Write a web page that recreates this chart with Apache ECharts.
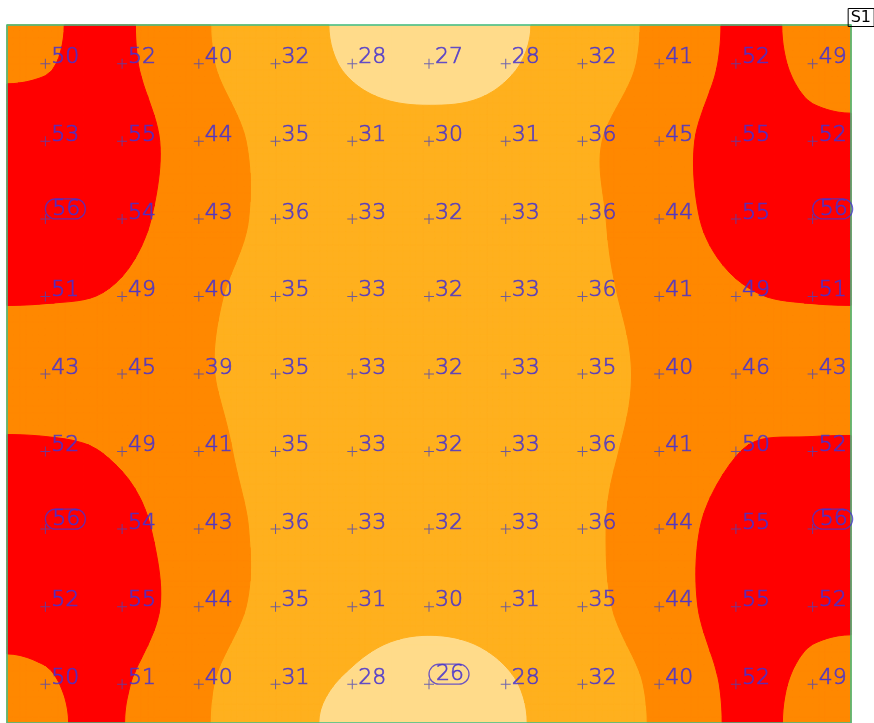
<!DOCTYPE html>
<html>
<head>
<meta charset="utf-8">
<title>S1 isolines</title>
<script src="https://cdn.jsdelivr.net/npm/echarts@6/dist/echarts.min.js"></script>
<style>
  html, body { margin: 0; padding: 0; background: #fff; }
  #chart { width: 874px; height: 723px; }
</style>
</head>
<body>
<div id="chart"></div>
<script>
// calculation points, rows from top to bottom, columns from left to right
const illuminance = [
  [50, 52, 40, 32, 28, 27, 28, 32, 41, 52, 49],
  [53, 55, 44, 35, 31, 30, 31, 36, 45, 55, 52],
  [56, 54, 43, 36, 33, 32, 33, 36, 44, 55, 56],
  [51, 49, 40, 35, 33, 32, 33, 36, 41, 49, 51],
  [43, 45, 39, 35, 33, 32, 33, 35, 40, 46, 43],
  [52, 49, 41, 35, 33, 32, 33, 36, 41, 50, 52],
  [56, 54, 43, 36, 33, 32, 33, 36, 44, 55, 56],
  [52, 55, 44, 35, 31, 30, 31, 35, 44, 55, 52],
  [50, 51, 40, 31, 28, 26, 28, 32, 40, 52, 49]
];

// isoline levels and the fill of each band (lowest band first)
const levels = [28.5, 38, 50.3];
const bandColors = ['#ffdb8a', '#ffb01e', '#ff8800', '#ff0000'];

const labelColor = '#4632d0';
const crossColor = '#4a46b8';
const frameColor = '#3dbf8a';

const rowCount = illuminance.length;
const colCount = illuminance[0].length;
const SUB = 12; // sub steps per cell used to trace the isolines

// value at a grid node, mirrored across the walls
function node(i, j) {
  if (i < 0) i = -1 - i;
  if (i > colCount - 1) i = 2 * colCount - 1 - i;
  if (j < 0) j = -1 - j;
  if (j > rowCount - 1) j = 2 * rowCount - 1 - j;
  return illuminance[j][i];
}

function catmull(p0, p1, p2, p3, t) {
  return 0.5 * (2 * p1 + (p2 - p0) * t +
    (2 * p0 - 5 * p1 + 4 * p2 - p3) * t * t +
    (3 * p1 - p0 - 3 * p2 + p3) * t * t * t);
}

// smooth surface through the calculation points
function field(u, v) {
  const i = Math.floor(u), j = Math.floor(v);
  const tx = u - i, ty = v - j;
  const r = [];
  for (let m = -1; m <= 2; m++) {
    r.push(catmull(node(i - 1, j + m), node(i, j + m), node(i + 1, j + m), node(i + 2, j + m), tx));
  }
  return catmull(r[0], r[1], r[2], r[3], ty);
}

// sampled surface of one cell, kept between the layers
const cellCache = {};
function sampleCell(c, r) {
  const key = c + '_' + r;
  if (!cellCache[key]) {
    const f = [];
    for (let b = 0; b <= SUB; b++) {
      const line = [];
      for (let a = 0; a <= SUB; a++) line.push(field(c - 0.5 + a / SUB, r - 0.5 + b / SUB));
      f.push(line);
    }
    cellCache[key] = f;
  }
  return cellCache[key];
}

// one layer = everything at or above levels[k]; k = -1 is the base fill
function makeLayer(k) {
  return function (params, api) {
    const c = api.value(0), r = api.value(1);
    const px = [], py = [];
    for (let a = 0; a <= SUB; a++) px.push(api.coord([c - 0.5 + a / SUB, r - 0.5])[0]);
    for (let b = 0; b <= SUB; b++) py.push(api.coord([c - 0.5, r - 0.5 + b / SUB])[1]);
    const color = bandColors[k + 1];

    if (k < 0) {
      return {
        type: 'rect',
        shape: {
          x: Math.min(px[0], px[SUB]), y: Math.min(py[0], py[SUB]),
          width: Math.abs(px[SUB] - px[0]), height: Math.abs(py[SUB] - py[0])
        },
        style: { fill: color, stroke: color, lineWidth: 1 }
      };
    }

    const t = levels[k];
    const f = sampleCell(c, r);
    let d = '';
    for (let b = 0; b < SUB; b++) {
      for (let a = 0; a < SUB; a++) {
        const corners = [[a, b], [a + 1, b], [a + 1, b + 1], [a, b + 1]];
        const vals = corners.map(p => f[p[1]][p[0]]);
        if (vals.every(x => x < t)) continue;
        const poly = [];
        for (let q = 0; q < 4; q++) {
          const n = (q + 1) % 4;
          const inQ = vals[q] >= t, inN = vals[n] >= t;
          if (inQ) poly.push([px[corners[q][0]], py[corners[q][1]]]);
          if (inQ !== inN) {
            const s = (t - vals[q]) / (vals[n] - vals[q]);
            const x0 = px[corners[q][0]], y0 = py[corners[q][1]];
            const x1 = px[corners[n][0]], y1 = py[corners[n][1]];
            poly.push([x0 + s * (x1 - x0), y0 + s * (y1 - y0)]);
          }
        }
        if (poly.length < 3) continue;
        d += poly.map((p, idx) => (idx ? 'L' : 'M') + p[0].toFixed(2) + ',' + p[1].toFixed(2)).join('') + 'Z';
      }
    }
    if (!d) return null;
    return {
      type: 'path',
      shape: { pathData: d },
      style: { fill: color, stroke: color, lineWidth: 1 }
    };
  };
}

const points = [];
illuminance.forEach((row, r) => row.forEach((v, c) => points.push([c, r, v])));
const maxVal = Math.max(...points.map(p => p[2]));
const minVal = Math.min(...points.map(p => p[2]));

// thin stroke-like digits
const textFont = {
  fontFamily: 'DejaVu Sans', fontWeight: 200, fontSize: 22, color: labelColor,
  textBorderColor: labelColor, textBorderWidth: 0.7
};

// max and min get the rounded frame
const extremeLabel = {
  position: [5, 5],
  verticalAlign: 'bottom',
  padding: [1, 5, 0, 7],
  lineHeight: 19,
  borderColor: labelColor,
  borderWidth: 1.3,
  borderRadius: 10
};

const layerSeries = [-1, 0, 1, 2].map(k => ({
  type: 'custom',
  renderItem: makeLayer(k),
  data: points,
  encode: { x: 0, y: 1 },
  silent: true,
  z: 2 + k * 0.01
}));

const chart = echarts.init(document.getElementById('chart'));

chart.setOption({
  animation: false,
  backgroundColor: '#fff',
  title: {
    text: 'S1',
    right: 0,
    top: 8,
    padding: [2, 3, 1, 3],
    borderColor: '#000',
    borderWidth: 1,
    textStyle: { fontFamily: 'DejaVu Sans', fontSize: 16, fontWeight: 'normal', color: '#000' }
  },
  grid: {
    left: 7,
    top: 25,
    width: 844,
    height: 702,
    show: true,
    z: 5,
    backgroundColor: 'transparent',
    borderColor: frameColor,
    borderWidth: 1.5
  },
  xAxis: { type: 'value', min: -0.5, max: colCount - 0.5, show: false },
  yAxis: { type: 'value', min: -0.5, max: rowCount - 0.5, inverse: true, show: false },
  series: layerSeries.concat([
    {
      type: 'scatter',
      symbol: 'path://M0,4.5H10V5.5H0Z M4.5,0H5.5V10H4.5Z',
      symbolSize: 10,
      itemStyle: { color: crossColor },
      z: 10,
      label: Object.assign({
        show: true,
        position: [11, 10],
        verticalAlign: 'bottom',
        lineHeight: 22,
        formatter: p => String(p.value[2])
      }, textFont),
      data: points.map(p => {
        const item = { value: p };
        if (p[2] === maxVal || p[2] === minVal) item.label = extremeLabel;
        return item;
      })
    }
  ])
});
</script>
</body>
</html>
